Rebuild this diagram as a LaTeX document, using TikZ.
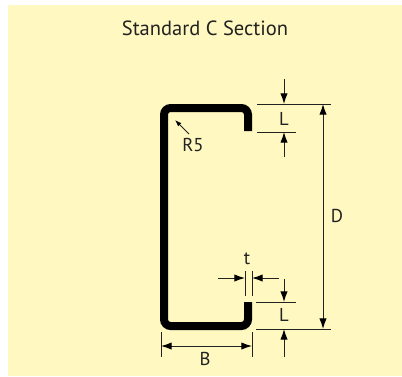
\documentclass[tikz,border=0pt]{standalone}
\usepackage{fontspec}
\setmainfont{PT Sans}
\usetikzlibrary{arrows.meta}
\definecolor{bgyellow}{HTML}{FFF8C0}
\definecolor{inkc}{HTML}{222222}
\tikzset{
  x=0.75pt,y=-0.75pt,
  dimline/.style={line width=0.75pt,draw=inkc},
  dimarrow/.style={dimline,-{Latex[length=8pt,width=5.5pt,black]}},
  dimboth/.style={dimline,{Latex[length=8pt,width=5.5pt,black]}-{Latex[length=8pt,width=5.5pt,black]}},
  lab/.style={inner sep=0pt,text=inkc,font=\fontsize{14}{16}\selectfont},
  section/.style={line width=6pt,draw=black,rounded corners=5pt,line cap=butt}
}
\begin{document}
\begin{tikzpicture}
\useasboundingbox (0,0) rectangle (402,376);
\fill[white] (0,0) rectangle (402,376);
\fill[bgyellow] (8,5) rectangle (402,376);
\node[lab,font=\fontsize{15.4}{18}\selectfont] (title) at (205,28) {Standard C Section};
% section
\draw[section] (248,131) -- (248,108) -- (164,108) -- (164,326) -- (248,326) -- (248,302);
% named coordinates
\coordinate (e1a) at (257,104); \coordinate (e1b) at (331,104);
\coordinate (e2a) at (257,132); \coordinate (e2b) at (296,132);
\coordinate (e3a) at (256,302); \coordinate (e3b) at (296,302);
\coordinate (e4a) at (256,329); \coordinate (e4b) at (331,329);
\draw[dimline] (e1a) -- (e1b);
\draw[dimline] (e2a) -- (e2b);
\draw[dimline] (e3a) -- (e3b);
\draw[dimline] (e4a) -- (e4b);
\coordinate (l1s) at (284,79); \coordinate (l1e) at (284,104);
\coordinate (l2s) at (284,157); \coordinate (l2e) at (284,132);
\coordinate (l3s) at (284,279); \coordinate (l3e) at (284,302);
\coordinate (l4s) at (284,357); \coordinate (l4e) at (284,329);
\draw[dimarrow] (l1s) -- (l1e);
\draw[dimarrow] (l2s) -- (l2e);
\draw[dimarrow] (l3s) -- (l3e);
\draw[dimarrow] (l4s) -- (l4e);
\coordinate (dt) at (323,104); \coordinate (db) at (323,329);
\draw[dimboth] (dt) -- (db);
\coordinate (t1a) at (245,271); \coordinate (t1b) at (245,296);
\coordinate (t2a) at (252,271); \coordinate (t2b) at (252,296);
\draw[dimline] (t1a) -- (t1b);
\draw[dimline] (t2a) -- (t2b);
\coordinate (ta1) at (218,278); \coordinate (ta2) at (245,278);
\coordinate (tb1) at (279,278); \coordinate (tb2) at (252,278);
\draw[dimarrow] (ta1) -- (ta2);
\draw[dimarrow] (tb1) -- (tb2);
\coordinate (b1a) at (161,332); \coordinate (b1b) at (161,357);
\coordinate (b2a) at (252,332); \coordinate (b2b) at (252,357);
\draw[dimline] (b1a) -- (b1b);
\draw[dimline] (b2a) -- (b2b);
\coordinate (bl) at (161,346); \coordinate (br) at (252,346);
\draw[dimboth] (bl) -- (br);
\coordinate (r1) at (189,134); \coordinate (r2) at (175,120);
\draw[dimline,-{Latex[length=5pt,width=3.5pt,black]}] (r1) -- (r2);
\node[lab] (lL1) at (284,119) {L};
\node[lab] (lL2) at (284,315) {L};
\node[lab] (lD) at (337,216) {D};
\node[lab] (lB) at (205,359) {B};
\node[lab] (lt) at (247,259) {t};
\node[lab] (lR) at (193,145) {R5};
\end{tikzpicture}
\end{document}
